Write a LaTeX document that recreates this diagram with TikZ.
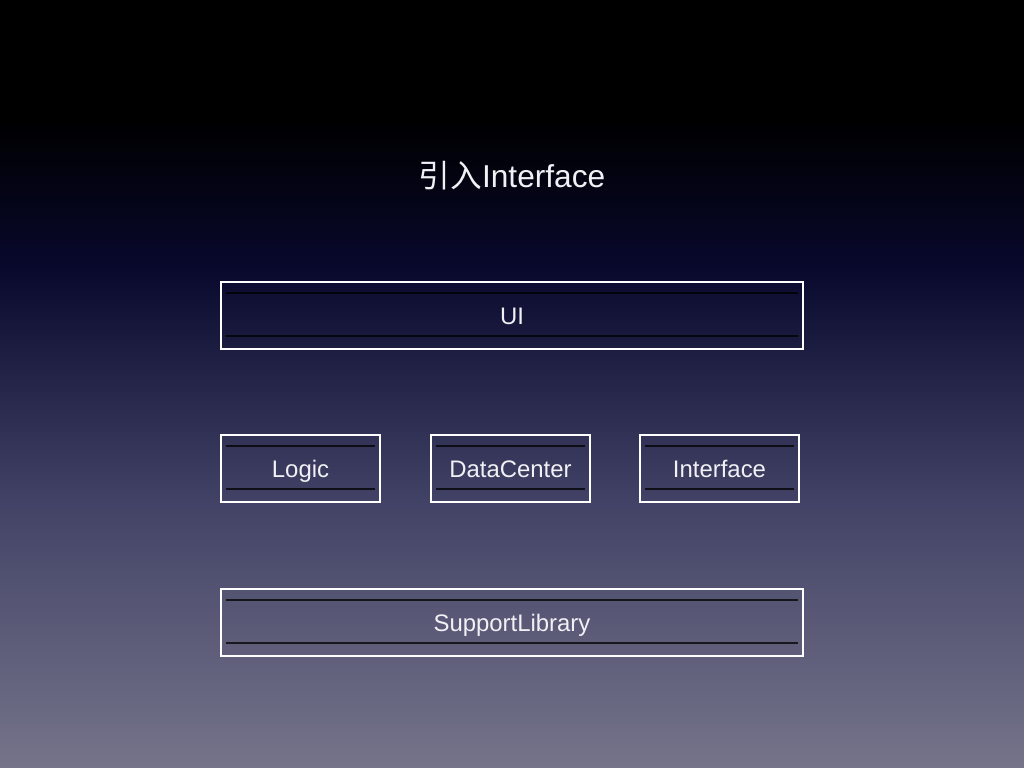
\documentclass[tikz,border=0pt]{standalone}
\usepackage{fontspec}
\setmainfont{Liberation Sans}
\newfontfamily\cjk{Noto Sans CJK SC}
\usetikzlibrary{calc}
\definecolor{bgtop}{RGB}{0,0,0}
\definecolor{bgnavy}{RGB}{8,8,44}
\definecolor{bgmid}{RGB}{66,66,102}
\definecolor{bgbot}{RGB}{117,116,138}
\definecolor{labeltext}{RGB}{240,240,245}
\tikzset{
    layer/.style={draw=white, line width=0.02cm, text=labeltext,
                  minimum height=0.67cm, inner sep=0pt,
                  text height=4.9pt, text depth=0pt,
                  font=\fontsize{6.8}{8}\selectfont},
    rule/.style={draw=black, opacity=0.75, line width=0.014cm},
}

\begin{document}
\begin{tikzpicture}[x=0.01cm, y=-0.01cm]
    % Background, in bands
    \fill [bgtop] (0,0) rectangle (1024,121);
    \shade [top color=bgtop, bottom color=bgnavy] (0,120) rectangle (1024,266);
    \shade [top color=bgnavy, bottom color=bgmid] (0,265) rectangle (1024,501);
    \shade [top color=bgmid, bottom color=bgbot] (0,500) rectangle (1024,768);
    \useasboundingbox (0,0) rectangle (1024,768);
    % Title
    \node (title) [text=labeltext, font=\fontsize{9}{11}\selectfont] at (512,176) {{\cjk 引入}Interface};
    % Layers
    \node (ui) [layer, minimum width=5.82cm] at (512,315.5) {UI};
    \node (logic) [layer, minimum width=1.59cm] at (300.5,468.5) {Logic};
    \node (datacenter) [layer, minimum width=1.59cm] at (510.5,468.5) {DataCenter};
    \node (interface) [layer, minimum width=1.59cm] at (719.5,468.5) {Interface};
    \node (supportlib) [layer, minimum width=5.82cm] at (512,622.5) {SupportLibrary};
    % Inner rules of each box
    \foreach \n in {ui, logic, datacenter, interface, supportlib} {
        \draw [rule] ($(\n.north west)+(6,12)$) -- ($(\n.north east)+(-6,12)$);
        \draw [rule] ($(\n.south west)+(6,-14)$) -- ($(\n.south east)+(-6,-14)$);
    }
\end{tikzpicture}
\end{document}
